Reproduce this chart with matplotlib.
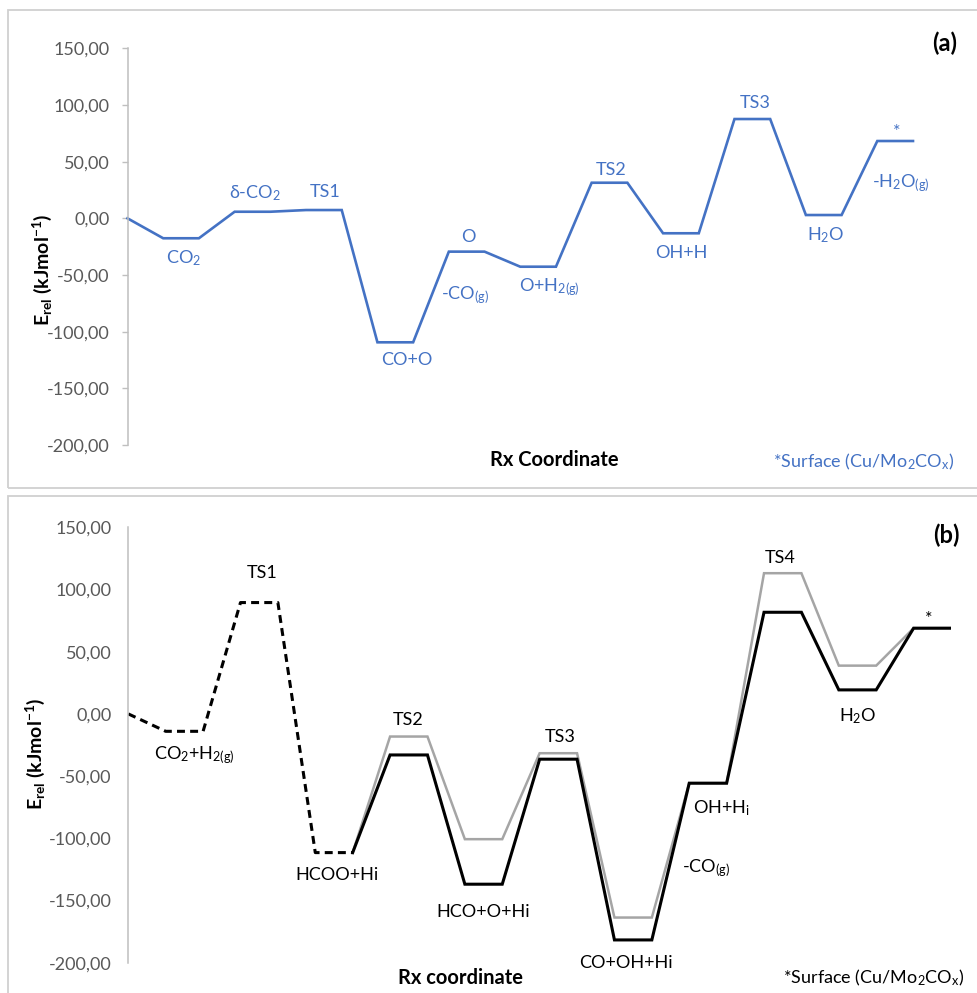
"""Energy profiles for CO2 reduction on Cu/Mo2COx: redox (a) and formate (b) routes."""
import matplotlib
matplotlib.use("Agg")
import matplotlib.pyplot as plt
from matplotlib.patches import Rectangle
import numpy as np

plt.rcParams["font.family"] = ["Lato", "DejaVu Sans"]
plt.rcParams["mathtext.default"] = "regular"

W, H = 977, 993
BLUE = "#4472C4"
GREY_LINE = "#A5A5A5"
TICK_GREY = "#595959"
FRAME = "#D0D0D0"

# y axis (shared layout for both panels)
Y_TICKS = [-200, -150, -100, -50, 0, 50, 100, 150]
Y_TICK_LABELS = ["-200,00", "-150,00", "-100,00", "-50,00", "0,00",
                 "50,00", "100,00", "150,00"]

# panel (a): redox route, one plateau per state after the 0 reference
A_START = 0.0
A_STATES = [-17.6, 5.8, 7.3, -109.4, -29.4, -42.7, 31.4, -13.2, 87.6, 2.9, 68.2]
A_LABELS = [
    ("CO$_2$", 1.58, -35.0),
    ("δ-CO$_2$", 3.57, 22.3),
    ("TS1", 5.53, 23.2),
    ("CO+O", 7.83, -124.9),
    ("O", 9.54, -16.5),
    ("-CO$_{(g)}$", 9.45, -67.6),
    ("O+H$_{2(g)}$", 11.83, -60.6),
    ("TS2", 13.54, 42.6),
    ("OH+H", 15.50, -30.6),
    ("TS3", 17.58, 101.5),
    ("H$_2$O", 19.54, -14.7),
    ("*", 21.55, 76.0),
    ("-H$_2$O$_{(g)}$", 21.66, 31.1),
]

# panel (b): formate route; black = first path, grey = alternative path
B_START = 0.0
B_BLACK = [-14.0, 89.5, -111.5, -33.0, -136.9, -36.4, -181.7, -55.7, 81.7, 19.3, 68.9]
B_GREY = [-18.2, -100.7, -31.6, -163.7, -55.7, 113.1, 38.8, 68.9]  # after HCOO+Hi
B_DASHED_STATES = 3          # first three states drawn dashed
B_LABELS = [
    ("TS1", 3.57, 113.6),
    ("CO$_2$+H$_{2(g)}$", 1.78, -33.0),
    ("HCOO+Hi", 5.58, -129.4),
    ("TS2", 7.48, -4.8),
    ("HCO+O+Hi", 9.48, -158.9),
    ("TS3", 11.54, -18.2),
    ("CO+OH+Hi", 13.31, -200.2),
    ("-CO$_{(g)}$", 15.45, -123.8),
    ("OH+H$_i$", 15.85, -75.6),
    ("TS4", 17.42, 125.4),
    ("H$_2$O", 19.51, -2.2),
    ("*", 21.41, 76.0),
]


def profile(start, states):
    """Reference point followed by a two-point plateau for each state."""
    return np.concatenate([[start], np.repeat(states, 2)])


def px_box(x0, y0, x1, y1):
    return [x0 / W, 1 - y1 / H, (x1 - x0) / W, (y1 - y0) / H]


def style_axis(ax, tick_len, pad):
    ax.set_ylim(-200, 150)
    ax.set_xlim(0, 22)
    ax.set_yticks(Y_TICKS)
    ax.set_yticklabels(Y_TICK_LABELS)
    ax.tick_params(axis="y", length=tick_len, width=1, color="#BFBFBF",
                   labelcolor=TICK_GREY, labelsize=13, pad=pad)
    ax.set_xticks([])
    for side in ("top", "right", "bottom"):
        ax.spines[side].set_visible(False)
    ax.spines["left"].set_color("#BFBFBF")
    ax.spines["left"].set_linewidth(1.1)
    ax.patch.set_alpha(0)


fig = plt.figure(figsize=(W / 100, H / 100), dpi=100)

# panel frames (right side runs off the canvas)
for (x0, y0, x1, y1) in [(7.5, 10, 985, 487.7), (7.5, 495.7, 985, 1005)]:
    fig.patches.append(Rectangle((x0 / W, 1 - y1 / H), (x1 - x0) / W,
                                 (y1 - y0) / H, transform=fig.transFigure,
                                 fill=False, edgecolor=FRAME, linewidth=1.3))

# ---- (a)
ax1 = fig.add_axes(px_box(127.5, 48.3, 913, 445))
style_axis(ax1, 4, 9)
ya = profile(A_START, A_STATES)
ax1.plot(np.arange(len(ya)), ya, color=BLUE, linewidth=1.9,
         solid_joinstyle="miter", clip_on=False)
for txt, x, y in A_LABELS:
    ax1.text(x, y, txt, color=BLUE, fontsize=13, ha="center", va="center")
ax1.set_ylabel("E$_{rel}$ (kJmol$^{-1}$)", fontsize=14, fontweight="bold")
ax1.yaxis.set_label_coords(-0.094, 0.44)

fig.text(945 / W, 1 - 43 / H, "(a)", fontsize=17, fontweight="bold",
         ha="center", va="center")
fig.text(554 / W, 1 - 460 / H, "Rx Coordinate", fontsize=14.5,
         fontweight="bold", ha="center", va="center")
fig.text(864 / W, 1 - 462 / H, "*Surface (Cu/Mo$_2$CO$_x$)", fontsize=13,
         color=BLUE, ha="center", va="center")

# ---- (b)
ax2 = fig.add_axes(px_box(128.3, 527.3, 951, 962.7))
style_axis(ax2, 0, 12)
yb = profile(B_START, B_BLACK)
xb = np.arange(len(yb))
split = 2 * B_DASHED_STATES          # index where the solid part begins
yg = np.concatenate([[yb[split]], np.repeat(B_GREY, 2)])
xg = np.arange(split, split + len(yg))
ax2.plot(xg, yg, color=GREY_LINE, linewidth=1.8, solid_joinstyle="miter")
ax2.plot(xb[:split + 1], yb[:split + 1], color="black", linewidth=2.2,
         linestyle=(0, (2.6, 1.7)), dash_capstyle="butt")
ax2.plot(xb[split:], yb[split:], color="black", linewidth=2.2,
         solid_joinstyle="miter")
for txt, x, y in B_LABELS:
    ax2.text(x, y, txt, color="black", fontsize=13, ha="center", va="center",
             clip_on=False)
ax2.set_ylabel("E$_{rel}$ (kJmol$^{-1}$)", fontsize=14, fontweight="bold")
ax2.yaxis.set_label_coords(-0.099, 0.48)

fig.text(946 / W, 1 - 535 / H, "(b)", fontsize=17, fontweight="bold",
         ha="center", va="center")
fig.text(461 / W, 1 - 978 / H, "Rx coordinate", fontsize=14.5,
         fontweight="bold", ha="center", va="center")
fig.text(874 / W, 1 - 978 / H, "*Surface (Cu/Mo$_2$CO$_x$)", fontsize=13,
         color="black", ha="center", va="center")

fig.savefig("out.png", dpi=100, facecolor="white")
